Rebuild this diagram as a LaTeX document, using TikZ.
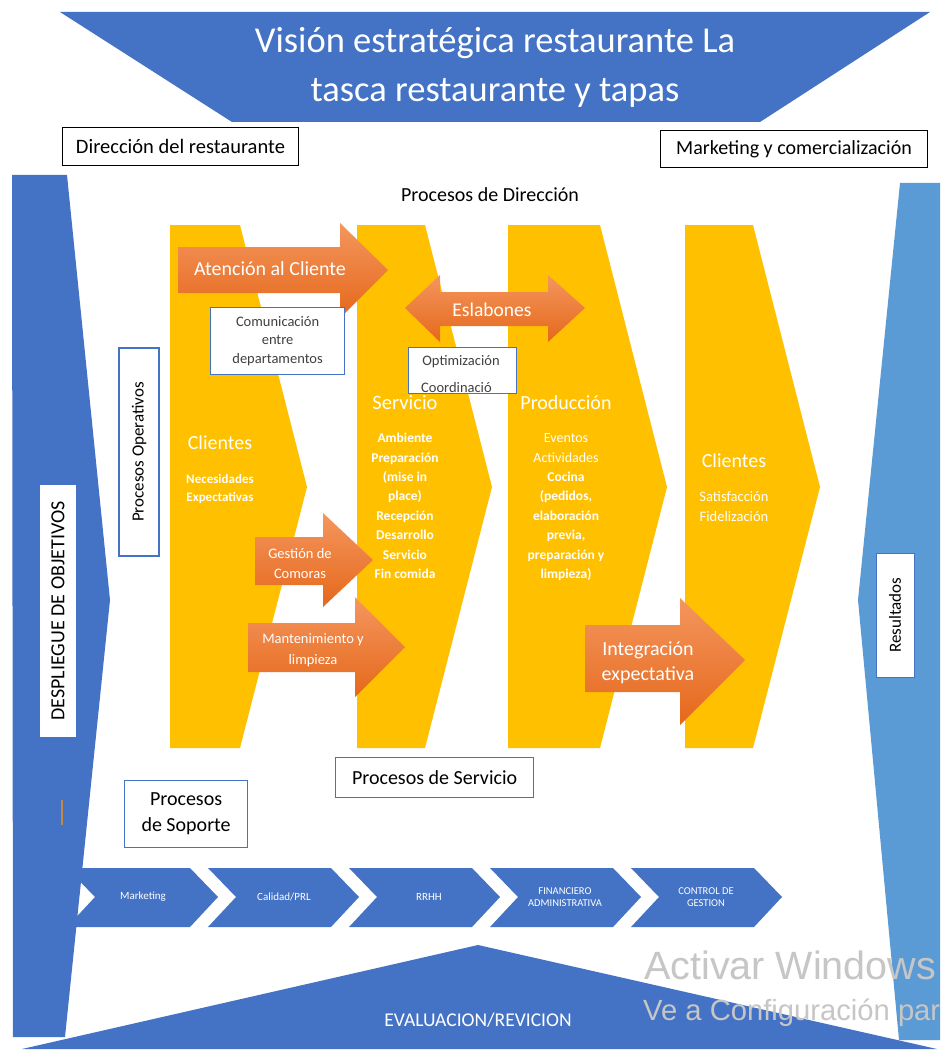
\documentclass[tikz,border=0pt]{standalone}
\usepackage{fontspec}
\setmainfont{Carlito}
\newfontfamily\wmfont{Liberation Sans}
\definecolor{dblue}{HTML}{4472C4}
\definecolor{lblue}{HTML}{5B9BD5}
\definecolor{yel}{HTML}{FFC000}
\definecolor{orT}{HTML}{F4965E}
\definecolor{orB}{HTML}{E5681B}
\definecolor{wm}{HTML}{C6C6C6}
\definecolor{txtg}{HTML}{404040}
\definecolor{tick}{HTML}{C08A45}
\tikzset{
  bluefill/.style={fill=dblue},
  yelfill/.style={fill=yel},
  orarrow/.style={top color=orT,bottom color=orB,draw=none},
  bbox/.style={draw=dblue,fill=white,line width=1.2pt},
  kbox/.style={draw=black,fill=white,line width=1pt},
  wtxt/.style={text=white,inner sep=0pt,align=center},
  ktxt/.style={text=black,inner sep=0pt,align=center},
  chev/.style={fill=dblue},
}
\begin{document}
\begin{tikzpicture}[x=1pt,y=-1pt]
\useasboundingbox[fill=white] (0,0) rectangle (943,1051);
% top trapezoid
\fill[bluefill] (60,12) -- (930,12) -- (760,122) -- (232,122) -- cycle;
\node[wtxt,font=\fontsize{36.5}{40}\selectfont] (t1) at (495,43) {Visión estratégica restaurante La};
\node[wtxt,font=\fontsize{36.5}{40}\selectfont] (t2) at (495,93) {tasca restaurante y tapas};
% header boxes
\node[kbox,minimum width=236pt,minimum height=38pt,anchor=north west,inner sep=0pt,font=\fontsize{20.5}{24}\selectfont] (dir) at (62,127) {Dirección del restaurante};
\node[kbox,minimum width=267pt,minimum height=37pt,anchor=north west,inner sep=0pt,font=\fontsize{20}{24}\selectfont] (mkt) at (660,130) {Marketing y comercialización};
\node[ktxt,font=\fontsize{20}{24}\selectfont] (pdir) at (490,195) {Procesos de Dirección};
% bottom chevrons
\foreach \i/\L in {1/67,2/208,3/349,4/490,5/631}{
  \fill[chev] (\L,868) -- ++(123,0) -- ++(28,29) -- ++(-28,30) -- ++(-123,0) -- ++(28,-30) -- cycle;
}
\node[wtxt,font=\fontsize{11}{12}\selectfont] (c1) at (143,897) {Marketing};
\node[wtxt,font=\fontsize{11}{12}\selectfont] (c2) at (284,897) {Calidad/PRL};
\node[wtxt,font=\fontsize{11}{12}\selectfont] (c3) at (429,897) {RRHH};
\node[wtxt,font=\fontsize{10.5}{12}\selectfont] (c4) at (565,897) {FINANCIERO\\ADMINISTRATIVA};
\node[wtxt,font=\fontsize{10.5}{12}\selectfont] (c5) at (706,897) {CONTROL DE\\GESTION};
% side shapes
\fill[bluefill] (12,175) -- (67,175) -- (110,600) -- (65,1037) -- (13,1037) -- cycle;
\fill[lblue] (900,183) -- (940,183) -- (940,1040) -- (899,1040) -- (858,600) -- cycle;
\node[fill=white,minimum width=252pt,minimum height=36pt,inner sep=0pt,rotate=90,font=\fontsize{20}{24}\selectfont] (desp) at (58,611) {DESPLIEGUE DE OBJETIVOS};
\draw[tick,line width=1.5pt] (62,800) -- (62,825);
\node[draw=dblue,line width=0.8pt,fill=white,minimum width=124pt,minimum height=38pt,inner sep=0pt,rotate=90,font=\fontsize{17}{20}\selectfont] (res) at (895,615) {Resultados};
% yellow pentagons
\fill[yelfill] (170,225) -- (240,225) -- (307,487) -- (240,748) -- (170,748) -- cycle;
\fill[yelfill] (357,225) -- (425,225) -- (492,487) -- (425,748) -- (357,748) -- cycle;
\fill[yelfill] (508,225) -- (600,225) -- (667,487) -- (600,748) -- (508,748) -- cycle;
\fill[yelfill] (685,225) -- (753,225) -- (820,487) -- (753,748) -- (685,748) -- cycle;
% pentagon texts
\node[wtxt,font=\fontsize{20}{24}\selectfont] (cl1) at (220,443) {Clientes};
\node[wtxt,font=\bfseries\fontsize{13}{18}\selectfont] (cl1b) at (220,489) {Necesidades\\Expectativas};
\node[wtxt,font=\fontsize{20.5}{24}\selectfont] (ser) at (405,403) {Servicio};
\node[wtxt,font=\bfseries\fontsize{13.5}{19.4}\selectfont] (serb) at (405,506) {Ambiente\\Preparación\\(mise in\\place)\\Recepción\\Desarrollo\\Servicio\\Fin comida};
\node[wtxt,font=\fontsize{20}{24}\selectfont] (pro) at (566,403) {Producción};
\node[wtxt,font=\fontsize{14}{19.6}\selectfont] (prob) at (566,448) {Eventos\\Actividades};
\node[wtxt,font=\bfseries\fontsize{13.5}{19.5}\selectfont] (proc) at (566,526.5) {Cocina\\(pedidos,\\elaboración\\previa,\\preparación y\\limpieza)};
\node[wtxt,font=\fontsize{20}{24}\selectfont] (cl2) at (734,461) {Clientes};
\node[wtxt,font=\fontsize{14.5}{20}\selectfont] (cl2b) at (734,507) {Satisfacción\\Fidelización};
% orange arrows
\path[orarrow] (178,247) -- (340,247) -- (340,223) -- (388,270) -- (340,318) -- (340,293) -- (178,293) -- cycle;
\node[wtxt,font=\fontsize{20}{24}\selectfont] (aten) at (270,269) {Atención al Cliente};
\path[orarrow] (405,308) -- (440,275) -- (440,292) -- (548,292) -- (548,275) -- (585,308) -- (548,342) -- (548,326) -- (440,326) -- (440,342) -- cycle;
\node[wtxt,font=\fontsize{19.5}{24}\selectfont] (esl) at (492,310) {Eslabones};
\path[orarrow] (255,537) -- (323,537) -- (323,513) -- (373,560) -- (323,607) -- (323,585) -- (255,585) -- cycle;
\node[wtxt,font=\fontsize{14.5}{20}\selectfont] (gest) at (300,564) {Gestión de\\Comoras};
\path[orarrow] (248,623) -- (355,623) -- (355,597) -- (405,647) -- (355,697) -- (355,672) -- (248,672) -- cycle;
\node[wtxt,font=\fontsize{14.5}{21}\selectfont] (mant) at (313,650) {Mantenimiento y\\limpieza};
\path[orarrow] (585,625) -- (680,625) -- (680,598) -- (745,660) -- (680,725) -- (680,692) -- (585,692) -- cycle;
\node[wtxt,font=\fontsize{20}{25}\selectfont] (integ) at (648,663) {Integración\\expectativa};
% white boxes
\node[bbox,minimum width=134pt,minimum height=67pt,anchor=north west,inner sep=0pt,text=txtg,align=center,font=\fontsize{14.5}{18.5}\selectfont] (com) at (210,307) {Comunicación\\entre\\departamentos};
\node[bbox,minimum width=108pt,minimum height=46pt,anchor=north west,inner sep=0pt] (opt) at (408,347) {};
\begin{scope}
\clip (409,348) rectangle (515,392);
\node[text=txtg,inner sep=0pt,font=\fontsize{14.5}{17}\selectfont] (opt1) at (461,362) {Optimización};
\node[text=txtg,inner sep=0pt,anchor=west,font=\fontsize{14.5}{17}\selectfont] (opt2) at (421,387.5) {Coordinació};
\end{scope}
\node[bbox,minimum width=208pt,minimum height=40pt,inner sep=0pt,rotate=90,font=\fontsize{17}{20}\selectfont] (pop) at (139,452) {Procesos Operativos};
\node[bbox,minimum width=123pt,minimum height=67pt,anchor=north west,inner sep=0pt,align=center,font=\fontsize{20}{26}\selectfont] (psop) at (124,780) {Procesos\\de Soporte};
\node[bbox,minimum width=198pt,minimum height=40pt,anchor=north west,inner sep=0pt,font=\fontsize{20}{24}\selectfont] (pser) at (335,757) {Procesos de Servicio};
% bottom triangle
\fill[bluefill] (478,945) -- (937,1049) -- (22,1049) -- cycle;
\node[wtxt,font=\fontsize{19.5}{23}\selectfont] (eval) at (478,1020) {EVALUACION/REVICION};
% watermark
\node[text=wm,anchor=base west,inner sep=0pt,font=\wmfont\fontsize{39.5}{44}\selectfont] (wm1) at (644,979) {Activar Windows};
\node[text=wm,anchor=base west,inner sep=0pt,font=\wmfont\fontsize{29.2}{33}\selectfont] (wm2) at (643,1020) {Ve a Configuración par};
\end{tikzpicture}
\end{document}
